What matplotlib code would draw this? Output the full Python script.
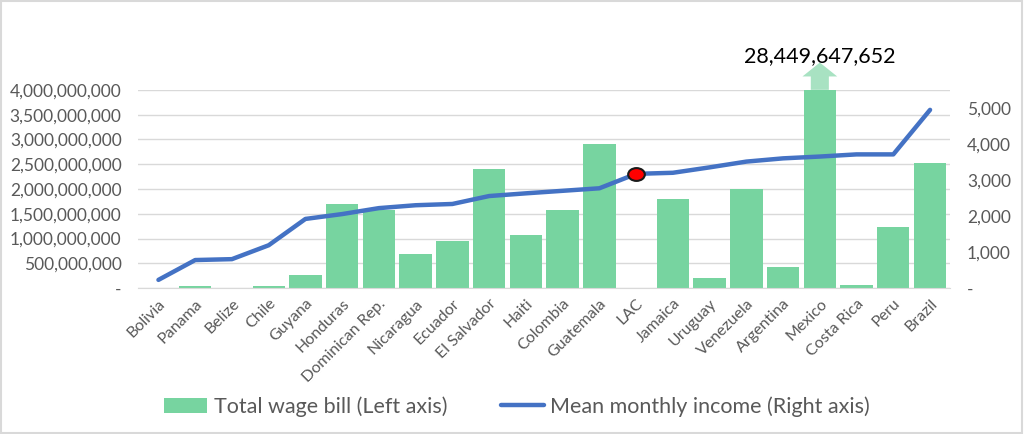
import matplotlib.pyplot as plt
from matplotlib.path import Path
from matplotlib.transforms import Affine2D
from matplotlib.ticker import FuncFormatter, MultipleLocator

# data
countries = ["Bolivia", "Panama", "Belize", "Chile", "Guyana", "Honduras",
             "Dominican Rep.", "Nicaragua", "Ecuador", "El Salvador", "Haiti",
             "Colombia", "Guatemala", "LAC", "Jamaica", "Uruguay", "Venezuela",
             "Argentina", "Mexico", "Costa Rica", "Peru", "Brazil"]
wage_bill = [0, 0.05e9, 0, 0.05e9, 0.26e9, 1.70e9,
             1.58e9, 0.69e9, 0.95e9, 2.40e9, 1.07e9,
             1.58e9, 2.90e9, 0, 1.80e9, 0.20e9, 2.00e9,
             0.42e9, 28449647652, 0.06e9, 1.24e9, 2.52e9]
mean_income = [230, 780, 805, 1190, 1920, 2055,
               2220, 2300, 2335, 2555, 2630,
               2700, 2770, 3170, 3200, 3350, 3510,
               3600, 3650, 3710, 3710, 4945]
highlight = "LAC"
mexico_label = "28,449,647,652"

BAR_COLOR = "#77D4A0"
LINE_COLOR = "#4472C4"
TEXT_COLOR = "#595959"

plt.rcParams["font.family"] = ["Lato", "DejaVu Sans"]

fig = plt.figure(figsize=(10.24, 4.34), dpi=100)
ax = fig.add_axes([0.135, 0.336, 0.793, 0.457])
ax2 = ax.twinx()

x = list(range(len(countries)))
ax.bar(x, wage_bill, width=0.88, color=BAR_COLOR, zorder=2,
       label="Total wage bill (Left axis)")
ax2.plot(x, mean_income, color=LINE_COLOR, lw=3.2, solid_capstyle="round",
         zorder=3, label="Mean monthly income (Right axis)")

# LAC average marked with a flattened red dot
ellipse = Path.unit_circle().transformed(Affine2D().scale(1.3, 1.0))
i = countries.index(highlight)
ax2.plot(i, mean_income[i], marker=ellipse, ms=12, mfc="#FF0000", mec="#1a1a1a",
         mew=1.5, zorder=4)

ax.set_ylim(0, 4e9)
ax2.set_ylim(0, 5500)
ax.set_xlim(-0.55, len(countries) - 0.45)
ax.yaxis.set_major_locator(MultipleLocator(5e8))
ax2.yaxis.set_major_locator(MultipleLocator(1000))
ax.yaxis.set_major_formatter(FuncFormatter(lambda v, p: "-" if v == 0 else f"{v:,.0f}"))
ax2.yaxis.set_major_formatter(FuncFormatter(lambda v, p: "-" if v == 0 else f"{v:,.0f}"))
ax2.set_ylim(0, 5500)

ax.grid(axis="y", color="#D9D9D9", lw=1, zorder=0)
ax.set_axisbelow(True)
for a in (ax, ax2):
    for s in a.spines.values():
        s.set_visible(False)
    a.tick_params(length=0, labelsize=12.5, labelcolor=TEXT_COLOR)
ax.spines["bottom"].set_visible(True)
ax.spines["bottom"].set_color("#D9D9D9")
ax.tick_params(axis="y", pad=12)
ax2.tick_params(axis="y", pad=12)

ax.set_xticks(x)
ax.set_xticklabels(countries, rotation=45, ha="right", rotation_mode="anchor",
                   fontsize=11.5)
ax.tick_params(axis="x", pad=6)

# Mexico bar is off the scale: arrow plus value label
m = countries.index("Mexico")
ax.annotate("", xy=(m, 4.55e9), xytext=(m, 4.0e9), annotation_clip=False,
            arrowprops=dict(arrowstyle="simple,head_width=2.5,head_length=1.0,tail_width=1.3",
                            color="#A8E2C2", lw=0, shrinkA=0, shrinkB=0))
ax.text(m, 4.68e9, mexico_label, ha="center", va="center", fontsize=15.5,
        color="black", clip_on=False)

h1, l1 = ax.get_legend_handles_labels()
h2, l2 = ax2.get_legend_handles_labels()
fig.legend(h1 + h2, l1 + l2, loc="center", bbox_to_anchor=(0.505, 0.063), ncol=2,
           frameon=False, fontsize=15.5, labelcolor=TEXT_COLOR, handlelength=2.0,
           handletextpad=0.3, columnspacing=2.5)

fig.patches.append(plt.Rectangle((0.001, 0.002), 0.997, 0.996, transform=fig.transFigure,
                                 fill=False, edgecolor="#D9D9D9", lw=1.5))

fig.savefig("out.png", dpi=100)
